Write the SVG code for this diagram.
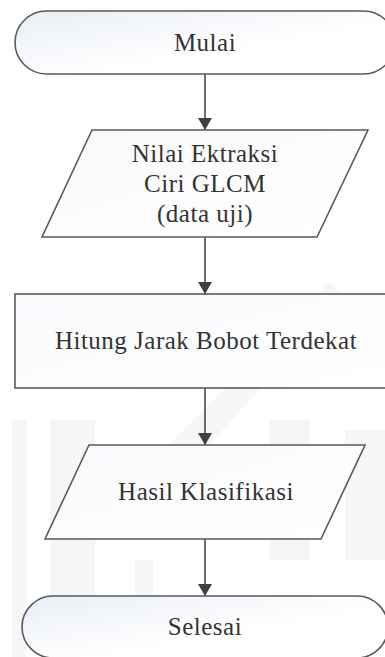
<svg xmlns="http://www.w3.org/2000/svg" width="385" height="657" viewBox="0 0 385 657">
  <style>
    .shape { stroke: #5a5a5a; stroke-width: 1.6; }
    .term { fill: url(#termFill); }
    .box { fill: url(#boxFill); }
    .label { font-family: "Liberation Serif", "Times New Roman", serif; font-size: 25px; letter-spacing: 0.5px; fill: #333333; text-anchor: middle; }
    .flow { stroke: #4a4a4a; stroke-width: 1.6; fill: none; marker-end: url(#arrow); }
    .mark { fill: #f6f6f6; }
  </style>
  <defs>
    <linearGradient id="termFill" x1="0" y1="0" x2="1" y2="1">
      <stop offset="0" stop-color="#e9eef6"/>
      <stop offset="0.6" stop-color="#ffffff"/>
    </linearGradient>
    <linearGradient id="boxFill" x1="0" y1="0" x2="1" y2="1">
      <stop offset="0" stop-color="#f8f9fc"/>
      <stop offset="1" stop-color="#ffffff"/>
    </linearGradient>
    <marker id="arrow" viewBox="0 0 12 14" refX="12" refY="7" markerWidth="12" markerHeight="14" markerUnits="userSpaceOnUse" orient="auto">
      <path d="M0,0 L12,7 L0,14 Z" fill="#3f3f3f"/>
    </marker>
  </defs>

  <rect width="385" height="657" fill="#ffffff"/>

  <!-- faint background emblem -->
  <g id="emblem">
    <polygon class="mark" points="330,282 400,360 400,385 330,310 160,500 135,480"/>
    <rect class="mark" x="270" y="420" width="40" height="140"/>
    <rect class="mark" x="345" y="430" width="40" height="130"/>
    <rect class="mark" x="12" y="420" width="14" height="237"/>
    <rect class="mark" x="50" y="420" width="45" height="237"/>
    <rect class="mark" x="135" y="560" width="18" height="97"/>
  </g>

  <!-- connectors -->
  <g id="connectors">
    <line class="flow" x1="205" y1="74" x2="205" y2="130"/>
    <line class="flow" x1="205" y1="237" x2="205" y2="294"/>
    <line class="flow" x1="205" y1="388" x2="205" y2="445"/>
    <line class="flow" x1="205" y1="539" x2="205" y2="596"/>
  </g>

  <g id="mulai">
    <rect class="shape term" x="15" y="11" width="380" height="63" rx="31.5" ry="31.5"/>
    <text class="label" x="205" y="51">Mulai</text>
  </g>

  <g id="input-glcm">
    <polygon class="shape box" points="92,130 368,130 317,237 42,237"/>
    <text class="label" x="205" y="162">Nilai Ektraksi</text>
    <text class="label" x="205" y="192">Ciri GLCM</text>
    <text class="label" x="205" y="222">(data uji)</text>
  </g>

  <g id="hitung">
    <rect class="shape box" x="15" y="294" width="380" height="94"/>
    <text class="label" x="206" y="349">Hitung Jarak Bobot Terdekat</text>
  </g>

  <g id="hasil">
    <polygon class="shape box" points="89,445 365,445 321,539 45,539"/>
    <text class="label" x="206" y="500">Hasil Klasifikasi</text>
  </g>

  <g id="selesai">
    <rect class="shape term" x="22" y="596" width="366" height="62" rx="31" ry="31"/>
    <text class="label" x="205" y="635">Selesai</text>
  </g>
</svg>
